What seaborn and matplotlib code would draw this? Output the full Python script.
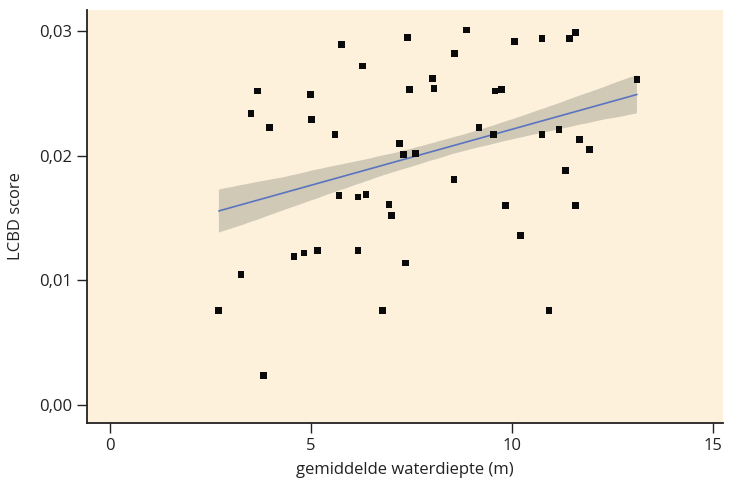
import numpy as np
import pandas as pd
import matplotlib
matplotlib.use("Agg")
import matplotlib.pyplot as plt
import seaborn as sns

# ---- data ----
depth = [2.71, 3.26, 3.51, 3.68, 3.83, 3.96, 4.58, 4.83, 4.98, 5.02,
         5.17, 5.60, 5.70, 5.77, 6.17, 6.17, 6.29, 6.37, 6.79, 6.94,
         7.01, 7.21, 7.31, 7.36, 7.41, 7.46, 7.61, 8.03, 8.06, 8.56,
         8.58, 8.86, 9.18, 9.55, 9.58, 9.75, 9.83, 10.07, 10.22, 10.75,
         10.75, 10.92, 11.17, 11.34, 11.44, 11.59, 11.59, 11.69, 11.92, 13.11]
lcbd = [0.0076, 0.0105, 0.0234, 0.0252, 0.0024, 0.0223, 0.01195, 0.0122, 0.0249, 0.0229,
        0.0124, 0.0217, 0.0168, 0.0289, 0.0124, 0.0167, 0.0272, 0.0169, 0.0076, 0.0161,
        0.0152, 0.0210, 0.0201, 0.0114, 0.0295, 0.0253, 0.0202, 0.0262, 0.0254, 0.0181,
        0.0282, 0.0301, 0.0223, 0.0217, 0.0252, 0.0253, 0.0160, 0.0292, 0.0136, 0.0217,
        0.0294, 0.0076, 0.0221, 0.0188, 0.0294, 0.0299, 0.0160, 0.0213, 0.0205, 0.0261]
x_ticks = [0, 5, 10, 15]
x_tick_labels = ["0", "5", "10", "15"]
y_ticks = [0.00, 0.01, 0.02, 0.03]
y_tick_labels = ["0,00", "0,01", "0,02", "0,03"]
x_label = "gemiddelde waterdiepte (m)"
y_label = "LCBD score"

df = pd.DataFrame({"depth": depth, "lcbd": lcbd})

sns.set_style("ticks")
plt.rcParams["font.family"] = ["Open Sans", "DejaVu Sans"]

fig = plt.figure(figsize=(7.41, 4.82), dpi=100)
ax = fig.add_axes([87 / 741, 1 - 423 / 482, (723 - 87) / 741, (423 - 10) / 482])
ax.set_facecolor("#fdf1dc")

sns.regplot(data=df, x="depth", y="lcbd", ax=ax, ci=55, seed=1, marker="s",
            scatter_kws=dict(s=24, color="#0a0a0a", edgecolor="none", alpha=1,
                             zorder=4),
            line_kws=dict(color="#5b74c0", lw=1.2, zorder=3))
for coll in ax.collections[1:]:
    coll.set_facecolor("#c9c2b0")
    coll.set_alpha(0.85)
    coll.set_edgecolor("none")

ax.set_xlim(-0.57, 15.25)
ax.set_ylim(-0.00144, 0.0317)
ax.set_xticks(x_ticks)
ax.set_xticklabels(x_tick_labels)
ax.set_yticks(y_ticks)
ax.set_yticklabels(y_tick_labels)
ax.set_xlabel(x_label, fontsize=12, color="#222222", labelpad=6)
ax.set_ylabel(y_label, fontsize=12, color="#222222", labelpad=11)
ax.tick_params(axis="both", labelsize=12, colors="#222222", length=7, width=1,
               direction="out")
for s in ["top", "right"]:
    ax.spines[s].set_visible(False)
for s in ["left", "bottom"]:
    ax.spines[s].set_color("#222222")
    ax.spines[s].set_linewidth(1.3)

fig.savefig("out.png", dpi=100)
